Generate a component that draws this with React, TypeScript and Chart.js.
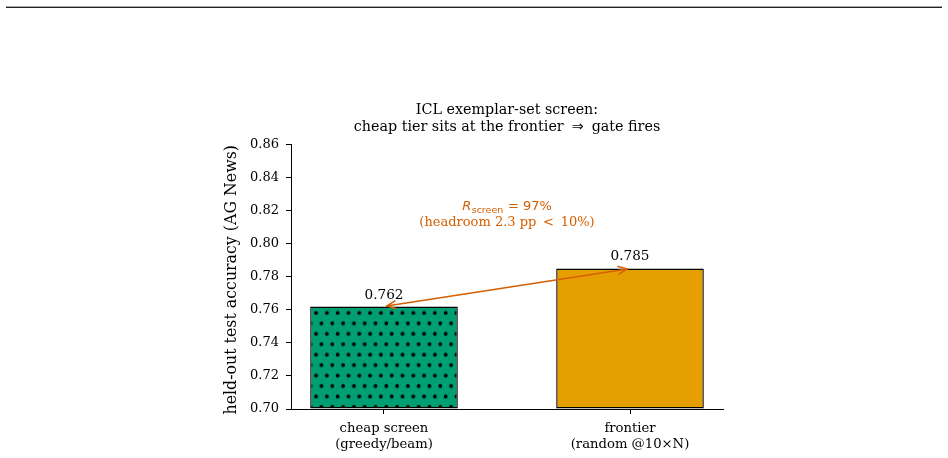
import { useEffect, useRef } from "react";
import { Chart, registerables } from "chart.js";

Chart.register(...registerables);

// ---- data ----
const categories: string[][] = [
  ["cheap screen", "(greedy/beam)"],
  ["frontier", "(random @10×N)"],
];
const categoryPositions = [0, 1];
const accuracy = [0.762, 0.785];
const valueLabels = ["0.762", "0.785"];
const yMin = 0.7;
const yMax = 0.86;
const yStep = 0.02;
const titleLine1 = "ICL exemplar-set screen:";
const titleLine2Parts = ["cheap tier sits at the frontier", "\u21D2", "gate fires"];
const yAxisTitle = "held-out test accuracy (AG News)";
const ratioLabel = "97%";
const headroomLabel = "(headroom 2.3 pp \u2009<\u2009 10%)";
const annotationY = 0.8185;
const annotationX = 0.5;

const GREEN = "#009E73";
const ORANGE = "#E69F00";
const VERMILION = "#D55E00";
const SERIF = "'DejaVu Serif', serif";
const SANS = "'DejaVu Sans', sans-serif";

function makeDotPattern(): CanvasPattern | string {
  const c = document.createElement("canvas");
  c.width = 11;
  c.height = 21;
  const g = c.getContext("2d");
  if (!g) return GREEN;
  g.fillStyle = GREEN;
  g.fillRect(0, 0, 11, 21);
  g.fillStyle = "#000";
  g.beginPath();
  g.arc(2.75, 5.25, 1.9, 0, Math.PI * 2);
  g.fill();
  g.beginPath();
  g.arc(8.25, 15.75, 1.9, 0, Math.PI * 2);
  g.fill();
  const p = g.createPattern(c, "repeat");
  if (!p) return GREEN;
  try {
    const m = new DOMMatrix().translate(10.95, 15.05).scale(10.8 / 11, 20.9 / 21);
    p.setTransform(m);
  } catch (e) {
    /* ignore */
  }
  return p;
}

const overlayPlugin = {
  id: "overlay",
  afterDraw(chart: any) {
    const { ctx, chartArea, scales } = chart;
    const xs = scales.x;
    const ys = scales.y;
    ctx.save();
    ctx.fillStyle = "#000";

    // title
    const cx = (chartArea.left + chartArea.right) / 2;
    const fT = `14.3px ${SERIF}`;
    const fArrow = `14.3px ${SANS}`;
    ctx.font = fT;
    ctx.textAlign = "center";
    ctx.textBaseline = "middle";
    ctx.fillText(titleLine1, cx, 110.5);
    {
      const gap = 8;
      ctx.font = fT;
      const w0 = ctx.measureText(titleLine2Parts[0]).width;
      const w2 = ctx.measureText(titleLine2Parts[2]).width;
      ctx.font = fArrow;
      const w1 = ctx.measureText(titleLine2Parts[1]).width;
      const total = w0 + w1 + w2 + gap * 2;
      let sx = cx - total / 2;
      ctx.textAlign = "left";
      ctx.font = fT;
      ctx.fillText(titleLine2Parts[0], sx, 127.5);
      sx += w0 + gap;
      ctx.font = fArrow;
      ctx.fillText(titleLine2Parts[1], sx, 127.5);
      sx += w1 + gap;
      ctx.font = fT;
      ctx.fillText(titleLine2Parts[2], sx, 127.5);
      ctx.textAlign = "center";
    }

    // y axis title
    ctx.save();
    ctx.translate(chartArea.left - 59, (chartArea.top + chartArea.bottom) / 2 + 3);
    ctx.rotate(-Math.PI / 2);
    ctx.font = `15.8px ${SERIF}`;
    ctx.fillText(yAxisTitle, 0, 0);
    ctx.restore();

    // value labels
    ctx.font = `13.6px ${SERIF}`;
    ctx.textBaseline = "alphabetic";
    accuracy.forEach((v, i) => {
      ctx.fillText(valueLabels[i], xs.getPixelForValue(categoryPositions[i]), ys.getPixelForValue(v) - 8);
    });

    // arrow between bar tops
    const x1 = xs.getPixelForValue(categoryPositions[0]);
    const y1 = ys.getPixelForValue(accuracy[0]);
    const x2 = xs.getPixelForValue(categoryPositions[1]);
    const y2 = ys.getPixelForValue(accuracy[1]);
    const dx = x2 - x1;
    const dy = y2 - y1;
    const len = Math.hypot(dx, dy);
    const ux = dx / len;
    const uy = dy / len;
    const shrink = 2.7;
    const ax = x1 + ux * shrink;
    const ay = y1 + uy * shrink;
    const bx = x2 - ux * shrink;
    const by = y2 - uy * shrink;
    ctx.strokeStyle = VERMILION;
    ctx.lineWidth = 1.5;
    ctx.lineCap = "round";
    ctx.lineJoin = "round";
    ctx.beginPath();
    ctx.moveTo(ax, ay);
    ctx.lineTo(bx, by);
    ctx.stroke();
    const head = (px: number, py: number, dirx: number, diry: number) => {
      const hl = 9;
      const hw = 3.8;
      const nx = -diry;
      const ny = dirx;
      ctx.beginPath();
      ctx.moveTo(px - dirx * hl + nx * hw, py - diry * hl + ny * hw);
      ctx.lineTo(px, py);
      ctx.lineTo(px - dirx * hl - nx * hw, py - diry * hl - ny * hw);
      ctx.stroke();
    };
    head(bx, by, ux, uy);
    head(ax, ay, -ux, -uy);

    // annotation text
    const axp = xs.getPixelForValue(annotationX);
    const ayp = ys.getPixelForValue(annotationY);
    ctx.fillStyle = VERMILION;
    ctx.textBaseline = "alphabetic";
    ctx.textAlign = "left";
    const fR = `italic 13px ${SANS}`;
    const fSub = `9.5px ${SANS}`;
    const fEq = `13px ${SANS}`;
    ctx.font = fR;
    const wR = ctx.measureText("R").width;
    ctx.font = fSub;
    const wSub = ctx.measureText("screen").width;
    ctx.font = fEq;
    const eq = " = " + ratioLabel;
    const wEq = ctx.measureText(eq).width;
    const total = wR + wSub + wEq + 1;
    let sx = axp - total / 2;
    const base1 = ayp - 3;
    ctx.font = fR;
    ctx.fillText("R", sx, base1);
    sx += wR + 0.5;
    ctx.font = fSub;
    ctx.fillText("screen", sx, base1 + 3);
    sx += wSub + 0.5;
    ctx.font = fEq;
    ctx.fillText(eq, sx, base1);

    ctx.textAlign = "center";
    ctx.font = `13px ${SERIF}`;
    ctx.fillText(headroomLabel, axp, ayp + 13);

    ctx.restore();
  },
};

export default function App() {
  const ref = useRef<HTMLCanvasElement | null>(null);

  useEffect(() => {
    const canvas = ref.current;
    if (!canvas) return;
    const pattern = makeDotPattern();
    const chart = new Chart(canvas, {
      type: "bar",
      data: {
        datasets: [
          {
            data: categoryPositions.map((x, i) => ({ x, y: accuracy[i] })),
            backgroundColor: [pattern as any, ORANGE],
            borderColor: "#000",
            borderWidth: 1.4,
            borderSkipped: false,
            categoryPercentage: 1,
            barPercentage: 0.6,
            base: yMin,
          } as any,
        ],
      },
      options: {
        animation: false,
        responsive: false,
        devicePixelRatio: 1,
        layout: { padding: { left: 231, right: 225, top: 144.5, bottom: 0 } },
        plugins: {
          legend: { display: false },
          tooltip: { enabled: false },
          title: { display: false },
        },
        scales: {
          x: {
            type: "linear",
            offset: false,
            min: -0.378,
            max: 1.378,
            afterBuildTicks: (s: any) => {
              s.ticks = categoryPositions.map((v) => ({ value: v }));
            },
            afterFit: (s: any) => {
              s.height = 49;
            },
            ticks: {
              autoSkip: false,
              maxRotation: 0,
              padding: 6,
              color: "#000",
              font: { family: SERIF, size: 13.2, lineHeight: 1.25 },
              callback: (v: any) => {
                const i = categoryPositions.indexOf(Number(v));
                return i >= 0 ? categories[i] : "";
              },
            },
            grid: {
              offset: false,
              drawOnChartArea: false,
              drawTicks: true,
              tickLength: 5,
              color: "#000",
            },
            border: { display: true, color: "#000", width: 1 },
          },
          y: {
            min: yMin,
            max: yMax,
            afterFit: (s: any) => {
              s.width = 60;
            },
            ticks: {
              stepSize: yStep,
              padding: 7,
              color: "#000",
              font: { family: SERIF, size: 13 },
              callback: (v: any) => Number(v).toFixed(2),
            },
            grid: {
              drawOnChartArea: false,
              drawTicks: true,
              tickLength: 5,
              color: "#000",
            },
            border: { display: true, color: "#000", width: 1 },
          },
        },
      },
      plugins: [overlayPlugin],
    });
    return () => chart.destroy();
  }, []);

  return (
    <div style={{ position: "absolute", left: 0, top: 0, width: 948, height: 458, background: "#fff" }}>
      <div style={{ position: "absolute", left: 6, top: 6, width: 936, height: 1, background: "#aaa" }} />
      <div style={{ position: "absolute", left: 6, top: 7, width: 936, height: 1, background: "#222" }} />
      <canvas ref={ref} width={948} height={458} style={{ position: "absolute", left: 0, top: 0 }} />
    </div>
  );
}
